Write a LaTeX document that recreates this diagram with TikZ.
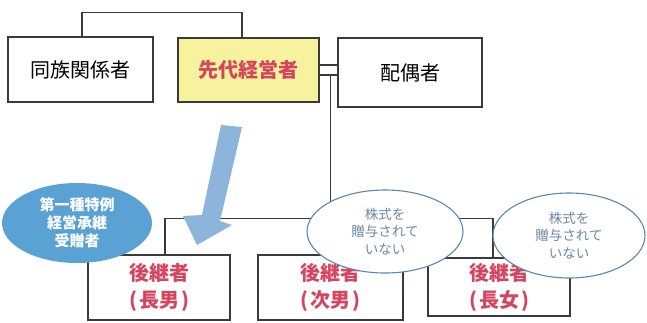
\documentclass[tikz,border=0pt]{standalone}
\usepackage{fontspec}
\setmainfont{Noto Sans CJK JP}
\usetikzlibrary{shapes.geometric}
\definecolor{linec}{HTML}{3A3A3A}
\definecolor{yel}{HTML}{F7F29E}
\definecolor{redt}{HTML}{D6455F}
\definecolor{blueell}{HTML}{5AA2D3}
\definecolor{arrowc}{HTML}{8DB4DB}
\definecolor{ellline}{HTML}{5E86AE}
\definecolor{elltext}{HTML}{6A88A6}
\tikzset{
  box/.style={draw=linec, line width=1.1pt, rectangle, inner sep=0pt, align=center},
  topfont/.style={font=\fontsize{20}{24}\selectfont},
  heirfont/.style={font=\fontsize{20}{27}\selectfont\bfseries, text=redt},
  conn/.style={draw=linec, line width=1.1pt},
  noteell/.style={ellipse, draw=ellline, line width=1.1pt, fill=white, inner sep=0pt, align=center,
    font=\fontsize{13.5}{17.5}\selectfont, text=elltext},
}
\begin{document}
\begin{tikzpicture}[x=1pt,y=-1pt]
\useasboundingbox (0,0) rectangle (647,322);
\fill[white] (0,0) rectangle (647,322);
% top row
\node[box, topfont, minimum width=145pt, minimum height=65pt] (dozoku) at (80.5,69.5) {同族関係者};
\node[box, fill=yel, minimum width=141pt, minimum height=64pt, font=\fontsize{20}{24}\selectfont\bfseries, text=redt] (sendai) at (248.5,70) {先代経営者};
\node[box, topfont, minimum width=144pt, minimum height=69pt] (haigu) at (410,72.5) {配偶者};
% bottom row
\node[box, heirfont, minimum width=142pt, minimum height=65pt] (chonan) at (159,287.5) {後継者\\(\kern2pt 長男\kern2pt)};
\node[box, heirfont, minimum width=145pt, minimum height=65pt] (jinan) at (330.5,287.5) {後継者\\(\kern2pt 次男\kern2pt)};
\node[box, heirfont, minimum width=142pt, minimum height=58pt] (chojo) at (499,287) {後継者\\(\kern2pt 長女\kern2pt)};
% connectors
\draw[conn] ([xshift=1.5pt]dozoku.north) -- ++(0,-24) -| ([xshift=-6.5pt]sendai.north);
\draw[conn] ([yshift=5pt]sendai.east) -- ([yshift=5pt]sendai.east -| haigu.west);
\draw[conn] ([yshift=-5pt]sendai.east) -- ([yshift=-5pt]sendai.east -| haigu.west);
\draw[conn] ([yshift=-5pt]sendai.east -| jinan.north) -- (jinan.north);
\draw[conn] ([xshift=6pt]chonan.north) -- ++(0,-36) -| ([xshift=-6pt]chojo.north);
% big arrow
\fill[arrowc] (221,125) -- (242,127) -- (220,221) -- (232,225) -- (197,245) -- (183,216) -- (202,215) -- cycle;
% ellipses
\node[ellipse, fill=blueell, inner sep=0pt, minimum width=150pt, minimum height=80pt, align=center,
  font=\fontsize{15}{18}\selectfont\bfseries, text=white] (juzo) at (77,223) {第一種特例\\経営承継\\受贈者};
\node[noteell, minimum width=156pt, minimum height=83pt] (note1) at (385,231.5) {株式を\\贈与されて\\いない};
\node[noteell, minimum width=152pt, minimum height=85pt] (note2) at (569,235.5) {株式を\\贈与されて\\いない};
\end{tikzpicture}
\end{document}
